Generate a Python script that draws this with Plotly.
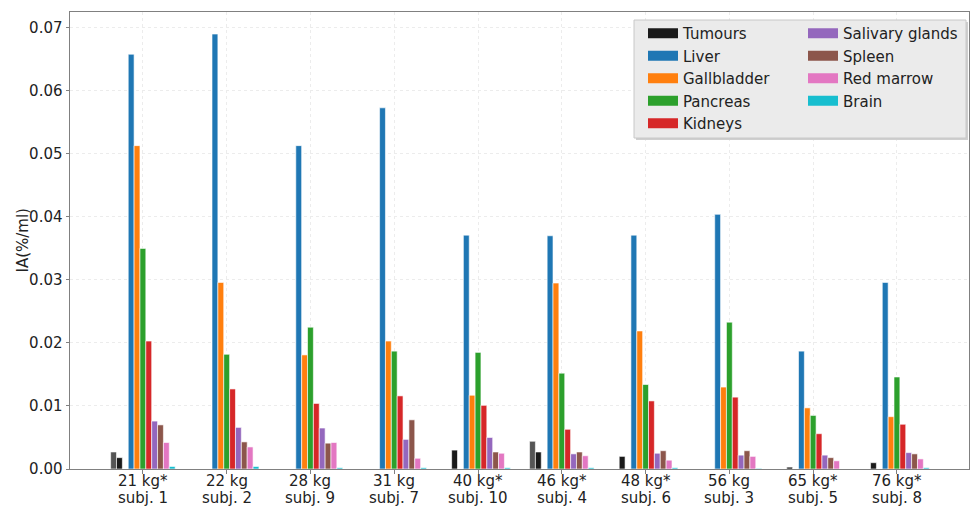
import plotly.graph_objects as go

weights = ["21 kg*", "22 kg", "28 kg", "31 kg", "40 kg*", "46 kg*", "48 kg*", "56 kg", "65 kg*", "76 kg*"]
subjects = ["subj. 1", "subj. 2", "subj. 9", "subj. 7", "subj. 10", "subj. 4", "subj. 6", "subj. 3",
            "subj. 5", "subj. 8"]

tumour1 = [0.0027, 0, 0, 0, 0, 0.0044, 0, 0, 0, 0]
tumour2 = [0.0018, 0, 0, 0, 0.0030, 0.0027, 0.0020, 0, 0.0003, 0.0010]
tumour3 = [0, 0, 0, 0, 0, 0, 0, 0, 0, 0]
liver = [0.0658, 0.0690, 0.0513, 0.0573, 0.0371, 0.0370, 0.0371, 0.0404, 0.0187, 0.0296]
gallbladder = [0.0513, 0.0296, 0.0181, 0.0203, 0.0117, 0.0295, 0.0219, 0.0130, 0.0097, 0.0083]
pancreas = [0.0350, 0.0182, 0.0225, 0.0187, 0.0185, 0.0152, 0.0134, 0.0233, 0.0085, 0.0146]
kidneys = [0.0203, 0.0127, 0.0104, 0.0116, 0.0101, 0.0063, 0.0108, 0.0114, 0.0056, 0.0071]
salivary = [0.0076, 0.0066, 0.0065, 0.0047, 0.0050, 0.0024, 0.0025, 0.0022, 0.0022, 0.0026]
spleen = [0.0070, 0.0043, 0.0041, 0.0078, 0.0027, 0.0027, 0.0029, 0.0029, 0.0018, 0.0024]
marrow = [0.0042, 0.0035, 0.0042, 0.0017, 0.0025, 0.0021, 0.0014, 0.0020, 0.0013, 0.0016]
brain = [0.0004, 0.0004, 0.0002, 0.0002, 0.0002, 0.0002, 0.0002, 0.0001, 0.0, 0.0002]

series = [
    ("Tumour 1", tumour1, "#555555"),
    ("Tumour 2", tumour2, "#1a1a1a"),
    ("Tumour 3", tumour3, "#1a1a1a"),
    ("Liver", liver, "#1f77b4"),
    ("Gallbladder", gallbladder, "#ff7f0e"),
    ("Pancreas", pancreas, "#2ca02c"),
    ("Kidneys", kidneys, "#d62728"),
    ("Salivary glands", salivary, "#9467bd"),
    ("Spleen", spleen, "#8c564b"),
    ("Red marrow", marrow, "#e377c2"),
    ("Brain", brain, "#17becf"),
]

legend_col1 = [("Tumours", "#1a1a1a"), ("Liver", "#1f77b4"), ("Gallbladder", "#ff7f0e"),
               ("Pancreas", "#2ca02c"), ("Kidneys", "#d62728")]
legend_col2 = [("Salivary glands", "#9467bd"), ("Spleen", "#8c564b"),
               ("Red marrow", "#e377c2"), ("Brain", "#17becf")]

FONT = "DejaVu Sans"
TXT = "#222222"
fig = go.Figure()
for name, vals, col in series:
    fig.add_trace(go.Bar(x=weights, y=vals, name=name, showlegend=False,
                         marker=dict(color=col, line=dict(color="white", width=0.6))))

for lname, entries in (("legend", legend_col1), ("legend2", legend_col2)):
    for name, col in entries:
        fig.add_trace(go.Scatter(x=[None], y=[None], mode="lines", name=name, legend=lname,
                                 line=dict(color=col, width=10)))

W, H = 973, 506
ml, mr, mt, mb = 70, 4, 12, 37
pw, ph = W - ml - mr, H - mt - mb

def px(x):
    return (x - ml) / pw

def py(y):
    return (H - mb - y) / ph

fig.add_shape(type="rect", xref="paper", yref="paper", x0=px(636), x1=px(968), y0=py(140), y1=py(22),
              fillcolor="#cfcfcf", line=dict(width=0), layer="above")
fig.add_shape(type="rect", xref="paper", yref="paper", x0=px(634), x1=px(966), y0=py(138), y1=py(20),
              fillcolor="#ebebeb", line=dict(color="#c8c8c8", width=1), layer="above")

# two-line category labels (weight / subject)
for w, s in zip(weights, subjects):
    fig.add_annotation(x=w, y=0, xref="x", yref="paper", text=w, showarrow=False,
                       yanchor="middle", yshift=-12, font=dict(family=FONT, size=15, color=TXT))
    fig.add_annotation(x=w, y=0, xref="x", yref="paper", text=s, showarrow=False,
                       yanchor="middle", yshift=-29, font=dict(family=FONT, size=15, color=TXT))

# y-axis title
fig.add_annotation(x=px(22), y=0.5, xref="paper", yref="paper", text="IA(%/ml)", showarrow=False,
                   textangle=-90, xanchor="center", yanchor="middle",
                   font=dict(family=FONT, size=15, color=TXT))

legend_common = dict(bgcolor="rgba(0,0,0,0)", borderwidth=0, font=dict(family=FONT, size=15, color=TXT),
                     yanchor="top", xanchor="left", tracegroupgap=0, itemclick=False)

fig.update_layout(
    width=W, height=H,
    margin=dict(l=ml, r=mr, t=mt, b=mb),
    plot_bgcolor="white", paper_bgcolor="white",
    barmode="group", bargap=0.23, bargroupgap=0,
    font=dict(family=FONT, size=15, color=TXT),
    legend=dict(x=px(643), y=py(17), **legend_common),
    legend2=dict(x=px(803), y=py(17), **legend_common),
    xaxis=dict(range=[-0.87, 9.86], showline=True, mirror=True, linecolor="#808080", linewidth=1,
               ticks="outside", ticklen=3.5, tickcolor="#808080", showgrid=True, gridcolor="#ececec",
               griddash="dot", gridwidth=0.8, automargin=False, showticklabels=False),
    yaxis=dict(range=[0, 0.0725], dtick=0.01, tickformat=".2f", showline=True, mirror=True,
               linecolor="#808080", linewidth=1, ticks="outside", ticklen=3.5, tickcolor="#808080",
               showgrid=True, gridcolor="#ececec", griddash="dot", gridwidth=0.8, zeroline=False,
               automargin=False, tickfont=dict(family=FONT, size=15, color=TXT)),
)

fig.write_html("out.html", config={"displayModeBar": False},
               post_script="document.body.style.margin='0';document.body.style.overflow='hidden';")
